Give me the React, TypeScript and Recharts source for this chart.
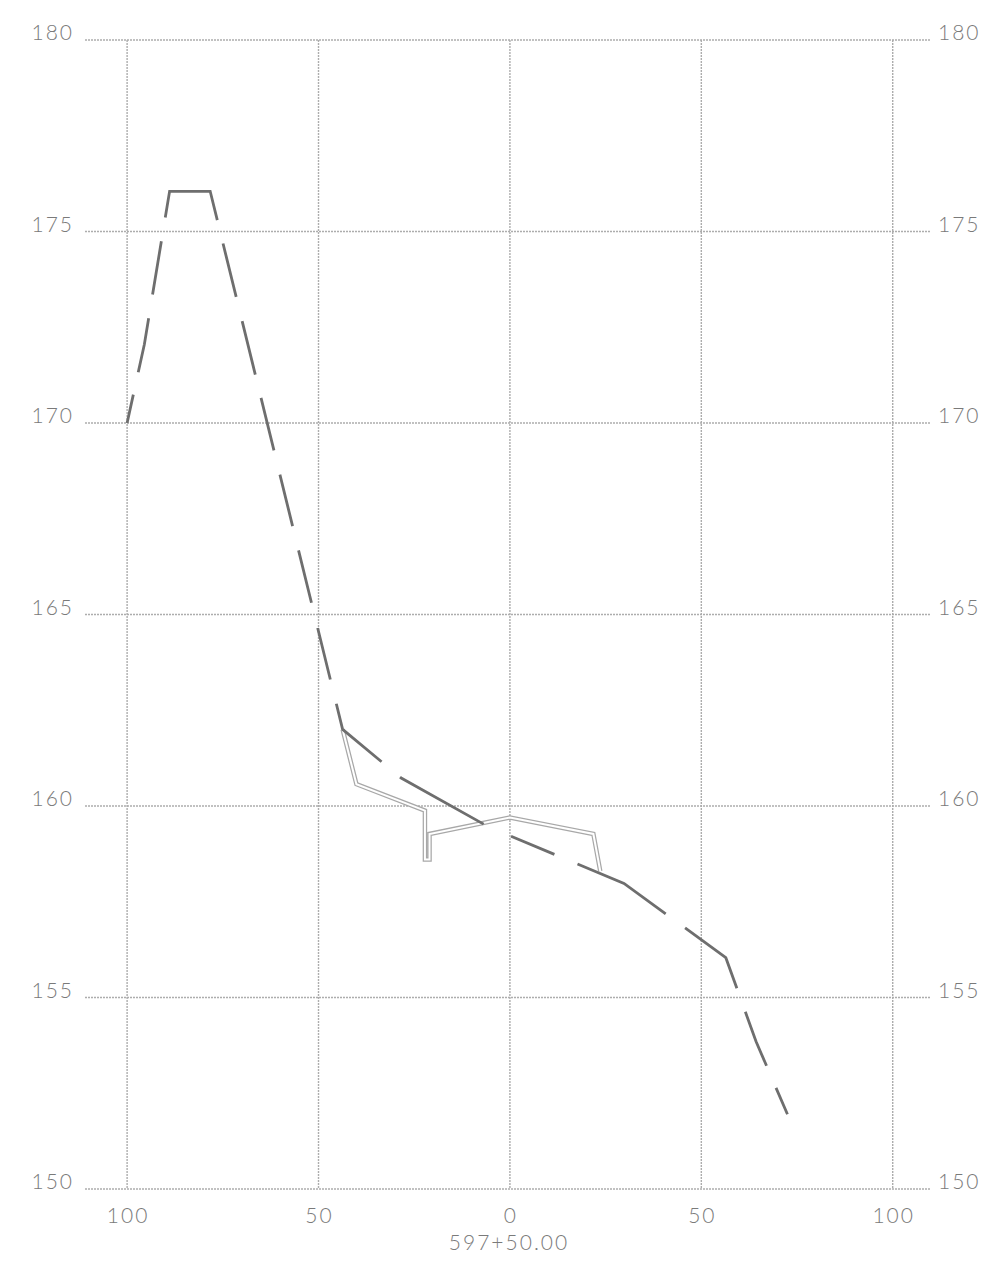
import { LineChart, Line, XAxis, YAxis, CartesianGrid } from 'recharts'

// existing ground (dashed)
const groundX = [-100, -95.5, -88.9, -78.3, -43.7, -28.4, -5.5, 29.8, 56.4, 64.3, 72.5]
const groundY = [170, 172.05, 176.05, 176.05, 162, 160.73, 159.45, 157.98, 156.04, 153.85, 151.95]

// proposed section (double line)
const gradeX = [-43.7, -40.1, -22.2, -22.2, -21.0, -21.0, 0, 21.8, 23.6]
const gradeY = [162, 160.57, 159.88, 158.6, 158.6, 159.27, 159.7, 159.27, 158.3]

const xTicks = [-100, -50, 0, 50, 100]
const yTicks = [150, 155, 160, 165, 170, 175, 180]
const stationLabel = '597+50.00'

const groundData = groundX.map((x, i) => ({ x, y: groundY[i] }))
const gradeData = gradeX.map((x, i) => ({ x, y: gradeY[i] }))

// CAD-style dashes, measured along the path
const groundDash =
  '29 23 55 24 54 24 97 24 55 25 55 24 54 25 53 25 54 26 53 25 77 24 96 30 47 25 102 24 83 25 58 24 30 200'

const textStyle = {
  fontFamily: 'Lato, "Open Sans", sans-serif',
  fontWeight: 300,
  fontSize: 21,
  letterSpacing: 2,
  fill: '#7a7a7a',
}

function LeftTick({ x, y, payload }: any) {
  return (
    <text x={x + 2} y={y} textAnchor="end" style={textStyle}>
      {payload.value}
    </text>
  )
}

function RightTick({ x, y, payload }: any) {
  return (
    <text x={x} y={y} textAnchor="start" style={textStyle}>
      {payload.value}
    </text>
  )
}

function BottomTick({ x, y, payload }: any) {
  return (
    <text x={x + 1} y={y + 26} textAnchor="middle" style={textStyle}>
      {Math.abs(payload.value)}
    </text>
  )
}

export default function App() {
  return (
    <div style={{ position: 'absolute', left: 0, top: 0, width: 982, height: 1267, background: '#fff' }}>
      <LineChart width={982} height={1267} margin={{ top: 40, right: 0, bottom: 0, left: 0 }}>
        <CartesianGrid stroke="#adadad" strokeWidth={1.4} strokeDasharray="2 1" syncWithTicks />
        <XAxis
          type="number"
          dataKey="x"
          domain={[-111, 110]}
          ticks={xTicks}
          allowDataOverflow
          height={78}
          axisLine={false}
          tickLine={false}
          tick={BottomTick}
          label={{
            content: ({ viewBox }: any) => (
              <text x={viewBox.x + viewBox.width / 2 + 1} y={viewBox.y + 61} textAnchor="middle" style={textStyle}>
                {stationLabel}
              </text>
            ),
          }}
        />
        <YAxis
          type="number"
          domain={[150, 180]}
          ticks={yTicks}
          allowDataOverflow
          width={85}
          axisLine={false}
          tickLine={false}
          tickSize={6}
          tickMargin={7}
          tick={LeftTick}
        />
        <YAxis
          yAxisId="right"
          orientation="right"
          type="number"
          domain={[150, 180]}
          ticks={yTicks}
          allowDataOverflow
          width={51}
          axisLine={false}
          tickLine={false}
          tickSize={6}
          tickMargin={1}
          tick={RightTick}
        />
        <Line
          data={gradeData}
          dataKey="y"
          type="linear"
          stroke="#a8a8a8"
          strokeWidth={4.5}
          strokeLinejoin="miter"
          dot={false}
          activeDot={false}
          isAnimationActive={false}
        />
        <Line
          data={gradeData}
          dataKey="y"
          type="linear"
          stroke="#ffffff"
          strokeWidth={2}
          strokeLinejoin="miter"
          dot={false}
          activeDot={false}
          isAnimationActive={false}
        />
        <Line
          yAxisId="right"
          data={groundData}
          dataKey="y"
          type="linear"
          stroke="#6e6e6e"
          strokeWidth={2.8}
          strokeDasharray={groundDash}
          dot={false}
          activeDot={false}
          isAnimationActive={false}
        />
      </LineChart>
    </div>
  )
}
